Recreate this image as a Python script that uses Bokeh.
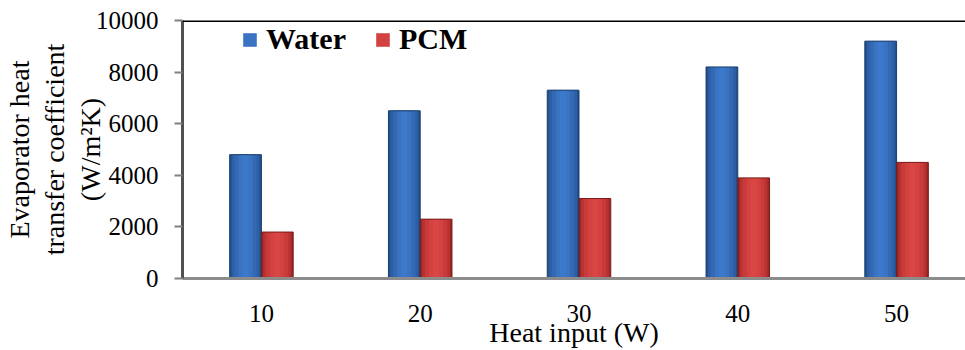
from bokeh.plotting import figure
from bokeh.models import Range1d, FixedTicker, Legend, LegendItem, ColumnDataSource, Span
from bokeh.embed import file_html
from bokeh.resources import INLINE

categories = ["10", "20", "30", "40", "50"]
water = [4800, 6500, 7300, 8200, 9200]
pcm = [1800, 2300, 3100, 3900, 4500]
y_ticks = [0, 2000, 4000, 6000, 8000, 10000]

xs = [i + 1 for i in range(len(categories))]
src = ColumnDataSource(dict(
    xw=[x - 0.1 for x in xs], xp=[x + 0.1 for x in xs], water=water, pcm=pcm))

p = figure(width=965, height=350, output_backend="svg", toolbar_location=None,
           x_range=Range1d(0.503, 5.434), y_range=Range1d(0, 10000),
           min_border_left=181, min_border_right=0, min_border_top=20, min_border_bottom=71)
p.background_fill_color = "white"
p.border_fill_color = "white"
p.grid.visible = False
p.outline_line_color = None

FONT = "Liberation Serif"

blue_layers = [(0.2, "#23508c"), (0.175, "#2c60a6"), (0.14, "#3468b3"), (0.09, "#3a73c2"), (0.04, "#3d79ca")]
red_layers = [(0.2, "#9c2626"), (0.175, "#b83232"), (0.14, "#c93a3a"), (0.09, "#d34140"), (0.04, "#d94644")]
wr = []
for w, c in blue_layers:
    wr.append(p.vbar(x="xw", top="water", width=w, bottom=0, source=src, fill_color=c, line_color=None))
pr = []
for w, c in red_layers:
    pr.append(p.vbar(x="xp", top="pcm", width=w, bottom=0, source=src, fill_color=c, line_color=None))
p.vbar(x="xw", top="water", width=0.2, bottom=0, source=src, fill_color=None, line_color="#1d3f6e", line_width=1)
p.vbar(x="xp", top="pcm", width=0.2, bottom=0, source=src, fill_color=None, line_color="#7a1c1c", line_width=1)

p.add_layout(Span(location=y_ticks[-1], dimension="width", line_color="black", line_width=3))

p.xaxis.ticker = FixedTicker(ticks=xs)
p.xaxis.major_label_overrides = {x: c for x, c in zip(xs, categories)}
p.xaxis.major_tick_line_color = None
p.xaxis.minor_tick_line_color = None
p.xaxis.axis_line_color = "#8c8c8c"
p.xaxis.axis_line_width = 3
p.xaxis.major_label_standoff = 20
p.xaxis.axis_label = "Heat input (W)"
p.xaxis.axis_label_standoff = -8
p.yaxis.ticker = FixedTicker(ticks=y_ticks)
p.yaxis.minor_tick_line_color = None
p.yaxis.major_tick_line_color = "#808080"
p.yaxis.major_tick_line_width = 2
p.yaxis.major_tick_out = 8
p.yaxis.major_tick_in = 0
p.yaxis.axis_line_color = "#505050"
p.yaxis.axis_line_width = 3
p.yaxis.major_label_standoff = 16
p.yaxis.axis_label = "Evaporator heat\ntransfer coefficient\n(W/m\u00b2K)"
p.yaxis.axis_label_standoff = -13
p.yaxis.axis_label_text_line_height = 1.15
for ax in (p.xaxis, p.yaxis):
    ax.major_label_text_font = FONT
    ax.major_label_text_font_size = "25px"
    ax.major_label_text_color = "black"
    ax.axis_label_text_font = FONT
    ax.axis_label_text_font_size = "28px"
    ax.axis_label_text_font_style = "normal"
    ax.axis_label_text_color = "black"

legend = Legend(items=[LegendItem(label="Water", renderers=[wr[3]]),
                       LegendItem(label="PCM", renderers=[pr[3]])],
                location=(59, 222), orientation="horizontal", padding=0, margin=0, spacing=28,
                label_standoff=8, glyph_width=17, glyph_height=17,
                label_text_font=FONT, label_text_font_size="30px", label_text_font_style="bold",
                label_text_color="black",
                border_line_color=None, background_fill_alpha=0)
p.add_layout(legend)

open("out.html", "w").write(file_html(p, INLINE))
